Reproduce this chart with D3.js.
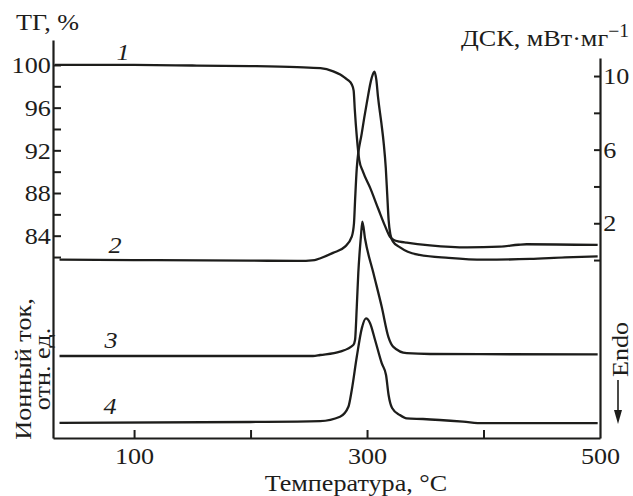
<!DOCTYPE html>
<html>
<head>
<meta charset="utf-8">
<script src="https://cdn.jsdelivr.net/npm/d3@7"></script>
<style>
  body { margin: 0; background: #fff; }
  text { font-family: "Liberation Serif", "DejaVu Serif", serif; }
</style>
</head>
<body>
<svg id="chart" width="633" height="496"></svg>
<script>
// curve 1: ТГ, %
const tgTemp = [32, 100, 150, 200, 240, 260, 271, 277, 281, 284, 286.8, 288.5, 289.5, 291.2, 293.3, 296.5, 302.6, 309.7, 315.5, 319.7, 323, 328, 334, 354, 386, 414, 430, 437, 498];
const tgVal  = [100, 100, 99.95, 99.9, 99.8, 99.7, 99.4, 99.1, 98.8, 98.55, 98.2, 97.6, 95.8, 93.3, 91.1, 90.0, 88.5, 86.5, 84.9, 83.9, 83.6, 83.45, 83.35, 83.1, 82.9, 82.97, 83.15, 83.2, 83.13];

// curve 2: ДСК, мВт/мг
const dscTemp = [36, 100, 200, 240, 255, 260, 270.8, 281.1, 286.9, 288.8, 289.7, 291.2, 295.5, 299.7, 304, 306.3, 308.0, 309.4, 312.3, 314.3, 316.1, 317.3, 318.5, 320, 322.3, 328, 335, 345, 370, 400, 440, 470, 498];
const dscVal  = [0.02, 0.0, -0.03, -0.05, 0.0, 0.1, 0.39, 0.73, 1.27, 2.0, 3.2, 5.0, 6.9, 8.5, 9.9, 10.24, 9.79, 8.88, 7.45, 6.36, 5.0, 3.6, 2.2, 1.4, 1.0, 0.7, 0.45, 0.28, 0.12, 0.02, 0.06, 0.15, 0.2];

// curves 3 and 4: ion current, rel. units
const ion3Temp = [36, 200, 253.6, 259.7, 276.8, 288.2, 289.7, 291.2, 292.5, 294, 294.8, 296, 298.3, 305.4, 312.6, 318.3, 322.6, 334.1, 354.1, 498];
const ion3Val  = [20.5, 20.5, 20.5, 20.75, 21.6, 23.25, 24.5, 32.8, 41.25, 47.8, 50.6, 54.1, 49.8, 41.3, 32.8, 25.3, 22.8, 21.2, 21.0, 20.9];

const ion4Temp = [36, 200, 259.7, 276.8, 284, 286.9, 291.2, 295.5, 299.1, 302.6, 306.9, 312.6, 316.3, 318.5, 321.5, 328.1, 334.1, 348, 382.4, 399.6, 498];
const ion4Val  = [3.8, 4.0, 4.2, 5.3, 7.8, 12, 20.3, 27.4, 29.9, 28.7, 24.5, 18.7, 15.75, 10.75, 7.5, 5.75, 4.9, 4.75, 4.1, 3.7, 3.7];

// ticks
const xTicks = [100, 200, 300, 400, 500];
const xLabels = [100, 300, 500];
const tgTicks = [82, 84, 86, 88, 90, 92, 94, 96, 98, 100];
const tgLabels = [84, 88, 92, 96, 100];
const dscTicks = [0, 2, 4, 6, 8, 10];
const dscLabels = [2, 6, 10];

const ink = "#1d1d1b";
const serif = '"Liberation Serif", "DejaVu Serif", serif';
const wide = "scale(1.09,1)"; // the scanned figure's lettering is a bit wider than Times
const svg = d3.select("#chart");

const x = d3.scaleLinear().domain([30.4, 500]).range([53, 600]);
const yTG = d3.scaleLinear().domain([65.04, 102.34]).range([438, 40]);
const yDSC = d3.scaleLinear().domain([-9.67, 10.98]).range([438, 58]);
const yIon = d3.scaleLinear().domain([0, 100]).range([438, 38]);

// axes, ticks point inwards
const gLeft = svg.append("g").attr("transform", "translate(53,0)")
  .call(d3.axisLeft(yTG).tickValues(tgTicks).tickSizeInner(-8).tickSizeOuter(0).tickPadding(2)
    .tickFormat(d => tgLabels.includes(d) ? d : ""));
const gRight = svg.append("g").attr("transform", "translate(600,0)")
  .call(d3.axisRight(yDSC).tickValues(dscTicks).tickSizeInner(-6).tickSizeOuter(0).tickPadding(3)
    .tickFormat(d => dscLabels.includes(d) ? d : ""));
const gBottom = svg.append("g").attr("transform", "translate(0,438)")
  .call(d3.axisBottom(x).tickValues(xTicks).tickSizeInner(-8).tickSizeOuter(0).tickPadding(9)
    .tickFormat(d => xLabels.includes(d) ? d : ""));

[gLeft, gRight, gBottom].forEach(g => {
  g.attr("font-family", serif).attr("font-size", 24);
  g.selectAll("path.domain").attr("stroke", ink).attr("stroke-width", 2.2);
  g.selectAll(".tick line").attr("stroke", ink).attr("stroke-width", 2);
  g.selectAll(".tick text").attr("fill", ink).attr("transform", wide);
});
gBottom.select(".tick:last-of-type line").remove();

// curves
const lines = [
  { t: tgTemp, v: tgVal, y: yTG },
  { t: dscTemp, v: dscVal, y: yDSC },
  { t: ion3Temp, v: ion3Val, y: yIon },
  { t: ion4Temp, v: ion4Val, y: yIon }
];
lines.forEach(s => {
  const pts = s.t.map((t, i) => [t, s.v[i]]);
  svg.append("path")
    .attr("fill", "none")
    .attr("stroke", ink)
    .attr("stroke-width", 2.3)
    .attr("stroke-linejoin", "round")
    .attr("d", d3.line().x(d => x(d[0])).y(d => s.y(d[1])).curve(d3.curveMonotoneX)(pts));
});

// curve numbers
const nums = [["1", 123, 60], ["2", 115, 253], ["3", 111, 348], ["4", 110, 414]];
svg.selectAll("text.num").data(nums).join("text")
  .attr("class", "num")
  .attr("transform", d => `translate(${d[1]},${d[2]}) ${wide}`)
  .attr("text-anchor", "middle")
  .attr("font-family", serif).attr("font-size", 24).attr("font-style", "italic")
  .attr("fill", ink)
  .text(d => d[0]);

// titles
svg.append("text").attr("transform", `translate(16,30) ${wide}`)
  .attr("font-family", serif).attr("font-size", 24).attr("fill", ink).text("ТГ, %");

const dsc = svg.append("text").attr("transform", `translate(629,46) ${wide}`).attr("text-anchor", "end")
  .attr("font-family", serif).attr("font-size", 24).attr("fill", ink);
dsc.append("tspan").text("ДСК, мВт·мг");
dsc.append("tspan").attr("dy", -9).attr("font-size", 18).text("−1");

svg.append("text").attr("transform", `translate(356,491) ${wide}`).attr("text-anchor", "middle")
  .attr("font-family", serif).attr("font-size", 24).attr("fill", ink).text("Температура, °С");

const yl = svg.append("text").attr("transform", `translate(0,369) rotate(-90) ${wide}`)
  .attr("text-anchor", "middle").attr("font-family", serif).attr("font-size", 24).attr("fill", ink);
yl.append("tspan").attr("x", 0).attr("y", 31).text("Ионный ток,");
yl.append("tspan").attr("x", 0).attr("y", 50).text("отн. ед.");

// Endo arrow
svg.append("text").attr("transform", `translate(628,377) rotate(-90) ${wide}`)
  .attr("font-family", serif).attr("font-size", 24).attr("fill", ink).text("Endo");
svg.append("line").attr("x1", 618).attr("x2", 618).attr("y1", 380).attr("y2", 414)
  .attr("stroke", ink).attr("stroke-width", 1.6);
svg.append("path").attr("d", "M614,410 L622,410 L618,424 Z").attr("fill", ink);
</script>
</body>
</html>
